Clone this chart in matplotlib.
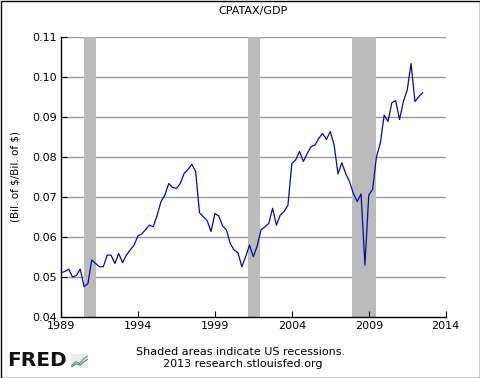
import numpy as np
import matplotlib
matplotlib.use('Agg')
import matplotlib.pyplot as plt
from matplotlib.patches import Rectangle

# quarterly CPATAX/GDP, 1989Q1 .. 2012Q3
start_year = 1989.0
ratio = [0.0510, 0.0513, 0.0519, 0.0499, 0.0503, 0.0519, 0.0475, 0.0483,
         0.0542, 0.0533, 0.0525, 0.0525, 0.0554, 0.0554, 0.0533, 0.0558,
         0.0535, 0.0554, 0.0567, 0.0579, 0.0602, 0.0607, 0.0618, 0.0629,
         0.0625, 0.0654, 0.0688, 0.0704, 0.0733, 0.0723, 0.0721, 0.0733,
         0.0758, 0.0768, 0.0781, 0.0763, 0.0660, 0.0650, 0.0640, 0.0613,
         0.0658, 0.0652, 0.0627, 0.0617, 0.0583, 0.0567, 0.0560, 0.0525,
         0.0550, 0.0579, 0.0550, 0.0577, 0.0617, 0.0625, 0.0633, 0.0671,
         0.0629, 0.0654, 0.0663, 0.0679, 0.0783, 0.0792, 0.0813, 0.0788,
         0.0808, 0.0825, 0.0829, 0.0846, 0.0858, 0.0843, 0.0863, 0.0829,
         0.0757, 0.0785, 0.0758, 0.0738, 0.0708, 0.0688, 0.0707, 0.0529,
         0.0704, 0.0718, 0.0800, 0.0833, 0.0904, 0.0888, 0.0935, 0.0940,
         0.0893, 0.0938, 0.0967, 0.1033, 0.0938, 0.0950, 0.0960]
dates = start_year + 0.25 * np.arange(len(ratio))

recessions = [(1990.5, 1991.25), (2001.17, 2001.92), (2007.92, 2009.5)]
xticks = [1989, 1994, 1999, 2004, 2009, 2014]
yticks = [0.04, 0.05, 0.06, 0.07, 0.08, 0.09, 0.10, 0.11]

fig = plt.figure(figsize=(4.8, 3.78), dpi=100)
ax = fig.add_axes([61/480, 61.3/378, (445.7-61)/480, 280/378])

for r0, r1 in recessions:
    ax.axvspan(r0, r1, color='#bbbbbb', lw=0, zorder=1)

for yv in yticks[1:]:
    ax.axhline(yv, color='#999999', lw=1, zorder=0)

ax.plot(dates, ratio, color='#0a0aa0', lw=0.9, zorder=3)

ax.set_xlim(1989, 2014)
ax.set_ylim(0.04, 0.11)
ax.set_xticks(xticks)
ax.set_yticks(yticks)
ax.set_yticklabels(['%.2f' % v for v in yticks])
ax.tick_params(direction='in', length=4, labelsize=8, color='black', pad=3)
for s in ['top', 'right']:
    ax.spines[s].set_visible(False)
for s in ['left', 'bottom']:
    ax.spines[s].set_linewidth(1)
ax.set_ylabel('(Bil. of $/Bil. of $)', fontsize=7.5, labelpad=8, parse_math=False)
ax.set_title('CPATAX/GDP', fontsize=8, pad=16)

# footer
fig.text(241, 378 - 351.7, 'Shaded areas indicate US recessions.',
         transform=None, ha='center', va='center', fontsize=8)
fig.text(242.5, 378 - 364.3, '2013 research.stlouisfed.org',
         transform=None, ha='center', va='center', fontsize=8)

# FRED logo
fig.text(7, 378 - 361, 'FRED', transform=None, ha='left', va='center',
         fontsize=14.5, fontweight='heavy', color='#111111')
icon = fig.add_axes([71/480, (378-368)/378, 17/480, 14/378])
icon.set_xlim(0, 1)
icon.set_ylim(0, 1)
icon.axis('off')
icon.add_patch(Rectangle((0, 0), 1, 1, color='#e8ece8'))
icon.plot([0.05, 0.3, 0.5, 0.7, 0.95], [0.2, 0.45, 0.3, 0.6, 0.85], color='#6a8a6a', lw=0.8)
icon.plot([0.05, 0.3, 0.55, 0.75, 0.95], [0.1, 0.3, 0.2, 0.45, 0.6], color='#5a7aa0', lw=0.8)

fig.add_artist(Rectangle((0.5, 0.5), 479, 377, transform=None, fill=False,
                         edgecolor='black', lw=1))

fig.savefig('out.png', dpi=100)
